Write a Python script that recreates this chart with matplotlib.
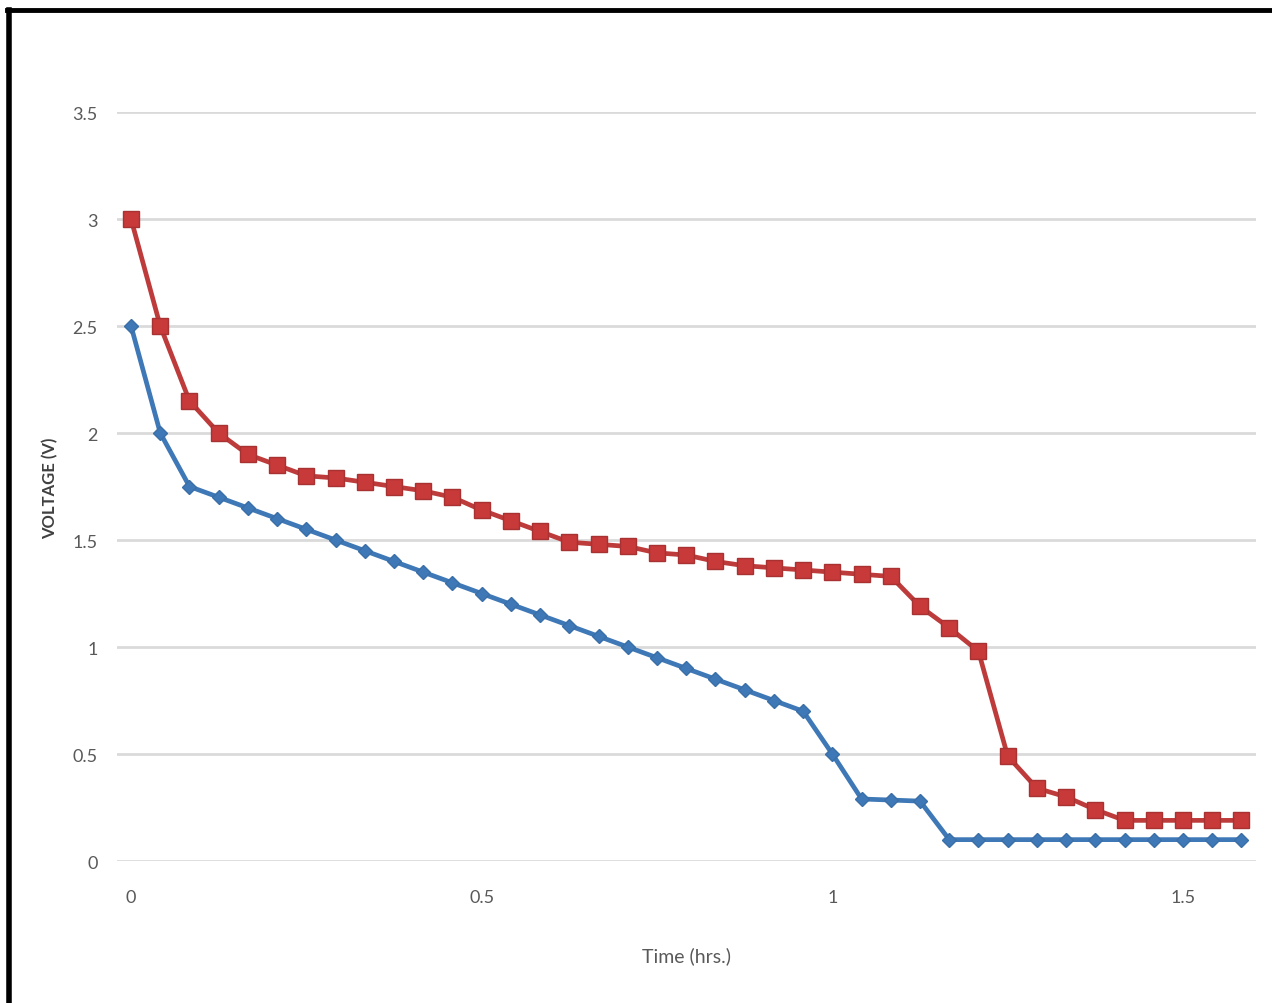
import matplotlib
matplotlib.use("Agg")
import matplotlib.pyplot as plt
from matplotlib.lines import Line2D

# Sampling every 2.5 minutes (1/24 hr)
time_hrs = [i / 24 for i in range(39)]

voltage_red = [3.0, 2.5, 2.15, 2.0, 1.9, 1.85, 1.8, 1.79, 1.77, 1.75,
               1.73, 1.70, 1.64, 1.59, 1.54, 1.49, 1.48, 1.47, 1.44, 1.43,
               1.40, 1.38, 1.37, 1.36, 1.35, 1.34, 1.33, 1.19, 1.09, 0.98,
               0.49, 0.34, 0.30, 0.24, 0.19, 0.19, 0.19, 0.19, 0.19]

voltage_blue = [2.5, 2.0, 1.75, 1.7, 1.65, 1.6, 1.55, 1.5, 1.45, 1.4,
                1.35, 1.3, 1.25, 1.2, 1.15, 1.1, 1.05, 1.0, 0.95, 0.9,
                0.85, 0.8, 0.75, 0.7, 0.5, 0.29, 0.285, 0.28, 0.1, 0.1,
                0.1, 0.1, 0.1, 0.1, 0.1, 0.1, 0.1, 0.1, 0.1]

y_ticks = [0, 0.5, 1, 1.5, 2, 2.5, 3, 3.5]
y_tick_labels = ["0", "0.5", "1", "1.5", "2", "2.5", "3", "3.5"]
x_ticks = [0, 0.5, 1, 1.5]
x_tick_labels = ["0", "0.5", "1", "1.5"]

plt.rcParams["font.family"] = ["Lato", "DejaVu Sans"]

fig = plt.figure(figsize=(12.72, 10.04), dpi=100)
ax = fig.add_axes([0.092, 0.1414, 0.8954, 0.746])

ax.plot(time_hrs, voltage_blue, color="#3E78B6", lw=3.4, marker="D",
        markersize=7.5, markerfacecolor="#3E78B6", markeredgecolor="#3A6FA8",
        clip_on=False, zorder=3)
ax.plot(time_hrs, voltage_red, color="#BE3B3B", lw=3.4, marker="s",
        markersize=11, markerfacecolor="#C8393A", markeredgecolor="#A83232",
        clip_on=False, zorder=4)

ax.set_xlim(-0.02, 1.604)
ax.set_ylim(0, 3.5)

ax.set_yticks(y_ticks)
ax.set_yticklabels(y_tick_labels)
ax.set_xticks(x_ticks)
ax.set_xticklabels(x_tick_labels)

ax.grid(axis="y", color="#DADADA", lw=2)
ax.grid(axis="x", visible=False)
ax.set_axisbelow(True)
for s in ax.spines.values():
    s.set_visible(False)

ax.tick_params(axis="both", length=0, labelsize=13, labelcolor="#595959")
ax.tick_params(axis="y", pad=14)
ax.tick_params(axis="x", pad=20)

ax.set_xlabel("Time (hrs.)", fontsize=14, color="#595959", labelpad=30)
fig.text(50 / 1272, 1 - 488 / 1004, "VOLTAGE (V)", rotation=90,
         ha="center", va="center", fontsize=12, color="#404040",
         fontweight="bold")

# Black frame on left and top edges
fig.add_artist(Line2D([9 / 1272, 9 / 1272], [0, 1 - 11 / 1004],
                      transform=fig.transFigure, color="black", lw=4))
fig.add_artist(Line2D([7 / 1272, 1], [1 - 11 / 1004, 1 - 11 / 1004],
                      transform=fig.transFigure, color="black", lw=3.5))

fig.savefig("out.png", dpi=100)
